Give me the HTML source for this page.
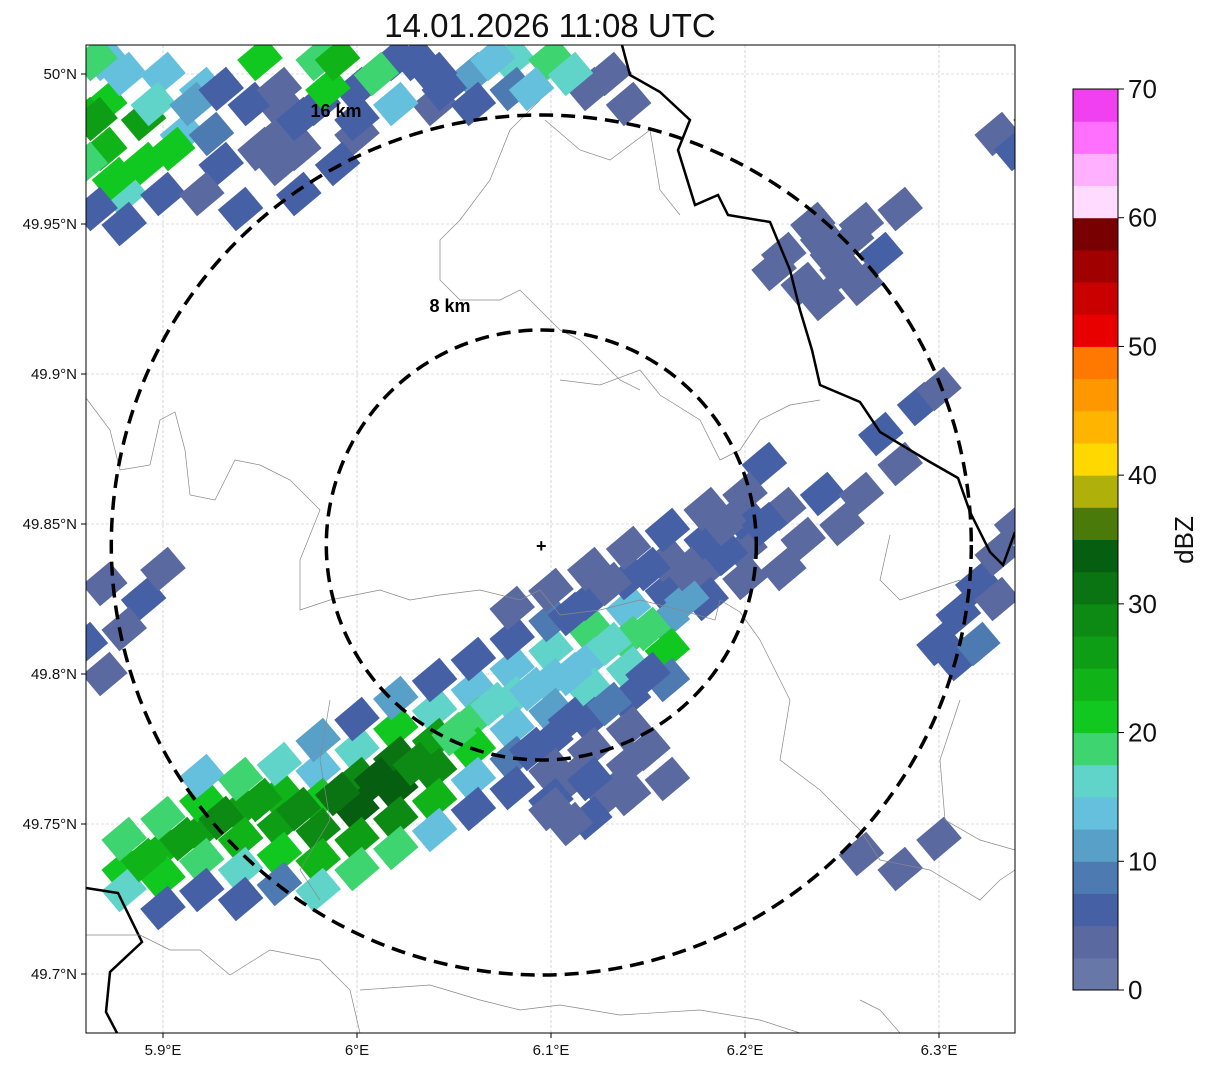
<!DOCTYPE html>
<html><head><meta charset="utf-8"><style>
body{margin:0;background:#fff;font-family:"Liberation Sans",sans-serif;}
svg text{font-family:"Liberation Sans","DejaVu Sans",sans-serif;}
</style></head><body>
<svg id="chart" width="1207" height="1069" viewBox="0 0 1207 1069" xmlns="http://www.w3.org/2000/svg">
<defs><clipPath id="clip"><rect x="86" y="45" width="929" height="988"/></clipPath></defs>
<text x="550" y="37" font-size="33" text-anchor="middle" fill="#111">14.01.2026 11:08 UTC</text>
<g id="grid"></g>
<g id="cells" clip-path="url(#clip)"></g>
<g clip-path="url(#clip)" fill="none">
<polyline stroke="#000" stroke-width="2.5" points="622,45 630,75 660,92 690,120 678,150 695,205 718,195 728,215 770,222 790,270 800,310 812,350 820,385 860,402 880,432 930,462 958,478 970,512 990,552 1003,565 1015,532"/>
<polyline stroke="#000" stroke-width="2.5" points="86,888 118,893 142,942 110,972 106,1012 117,1033"/>
<polyline stroke="#888" stroke-width="0.7" points="86,398 110,430 120,470 150,465 160,420 175,412 185,450 190,495 215,500 235,460 260,465 290,480 320,510 300,560 300,610 330,600 380,590 410,600 440,595 480,590 520,600 540,590 560,615 600,610 640,600 680,610 715,620 720,600 740,612 760,640"/>
<polyline stroke="#888" stroke-width="0.7" points="560,380 600,385 640,370 660,395 700,420 720,460 740,450 760,420 790,405 820,400"/>
<polyline stroke="#888" stroke-width="0.7" points="540,100 510,130 490,180 460,220 440,240 440,280 460,300 500,300 520,290 540,310 560,330 580,340 600,360 620,380 640,390"/>
<polyline stroke="#888" stroke-width="0.7" points="545,120 580,150 610,160 650,130 660,190 680,215"/>
<polyline stroke="#888" stroke-width="0.7" points="86,935 140,935 170,950 200,950 230,975 270,950 320,960 350,990 360,1033"/>
<polyline stroke="#888" stroke-width="0.7" points="360,990 430,985 480,1000 520,1010 560,1005 620,1015 700,1010 760,1020 800,1033"/>
<polyline stroke="#888" stroke-width="0.7" points="760,640 790,700 780,760 820,790 860,830 880,860 930,870 980,900 1000,880 1015,870"/>
<polyline stroke="#888" stroke-width="0.7" points="960,700 940,760 945,820 980,840 1015,850"/>
<polyline stroke="#888" stroke-width="0.7" points="860,1000 880,1010 900,1033"/>
<polyline stroke="#888" stroke-width="0.7" points="890,535 880,580 900,600 960,580"/>
<polyline stroke="#888" stroke-width="0.7" points="330,700 320,760 330,820 300,870 320,900"/>
</g>
<g id="rings" clip-path="url(#clip)"></g>
<rect x="86" y="45" width="929" height="988" fill="none" stroke="#000" stroke-width="1"/>
<g id="axes"></g>
<g id="cbar"></g>
</svg>
<script>
const lonTicks=[5.9,6.0,6.1,6.2,6.3];
const lonLabels=["5.9°E","6°E","6.1°E","6.2°E","6.3°E"];
const latTicks=[50.0,49.95,49.9,49.85,49.8,49.75,49.7];
const latLabels=["50°N","49.95°N","49.9°N","49.85°N","49.8°N","49.75°N","49.7°N"];
const radarLon=6.095, radarLat=49.843;
const ringKm=[8,16];
const ringLabels=["8 km","16 km"];
const cbarLevels=[0,2.5,5,7.5,10,12.5,15,17.5,20,22.5,25,27.5,30,32.5,35,37.5,40,42.5,45,47.5,50,52.5,55,57.5,60,62.5,65,67.5];
const cbarColors=["#6677a8","#5a6aa0","#4660a5","#4e7ab2","#58a0c8","#64c0dc","#60d4c8","#3ed470","#10c820","#10b418","#0e9e16","#0c8a14","#0a7412","#065e10","#4a7a0a","#b0b00a","#ffd800","#ffb400","#ff9800","#ff7800","#e80000","#c80000","#a00000","#780000","#ffdcff","#ffb0ff","#ff70ff","#f040f0"];
const cbarTicks=[0,10,20,30,40,50,60,70];
const cellLon=[5.88,5.88,5.88,5.90,5.90,5.90,5.90,5.92,5.92,5.92,5.92,5.92,5.94,5.94,5.94,5.94,5.94,5.96,5.96,5.96,5.96,5.96,5.98,5.98,5.98,5.98,5.98,5.98,6.00,6.00,6.00,6.00,6.00,6.00,6.02,6.02,6.02,6.02,6.02,6.02,6.04,6.04,6.04,6.04,6.04,6.04,6.06,6.06,6.06,6.06,6.06,6.06,6.08,6.08,6.08,6.08,6.08,6.08,6.08,6.10,6.10,6.10,6.10,6.10,6.10,6.10,6.12,6.12,6.12,6.12,6.12,6.12,6.12,6.14,6.14,6.14,6.14,6.14,6.14,6.14,6.16,6.16,6.16,6.16,6.16,6.16,6.18,6.18,6.18,6.18,6.20,6.20,6.20,6.11,6.13,6.12,6.14,6.10,6.15,
5.87,5.89,5.87,5.89,5.91,5.88,5.90,5.93,5.94,5.92,5.90,5.96,5.98,6.00,5.95,5.98,6.02,6.06,6.08,6.10,6.04,6.12,5.97,5.87,5.86,5.86,6.00,6.04,6.08,6.13,6.14,5.96,5.99,
6.22,6.24,6.26,6.25,6.27,6.23,6.28,6.24,6.33,6.35,6.34,6.27,6.29,6.30,6.28,6.22,6.24,6.25,6.23,6.26,6.22,6.21,6.31,6.32,6.33,6.31,6.32,6.33,6.34,6.30,5.87,5.89,5.88,5.86,5.87,5.90,6.28,6.26,6.30,5.97,
5.865,5.88,5.865,5.875,5.895,5.905,5.915,5.925,5.93,5.945,5.95,5.96,5.97,5.985,5.99,6.01,6.0,6.02,6.03,6.045,6.06,6.07,6.09,6.11,5.88,5.865,5.92,5.96,
5.89,5.91,5.93,5.95,5.97,5.99,6.01,6.03,6.05,6.07,6.09,6.11,6.13,6.15,6.17,6.19,6.09,6.11,6.13,6.15,6.17,6.19,6.15,6.13,6.11,6.20,6.21,6.10,6.12,6.14,6.16,6.11,
6.245,6.255,6.26,6.235,6.215];
const cellLat=[49.735,49.745,49.728,49.742,49.752,49.732,49.722,49.748,49.758,49.738,49.728,49.766,49.755,49.745,49.765,49.735,49.725,49.76,49.75,49.77,49.74,49.73,49.768,49.758,49.748,49.738,49.728,49.778,49.775,49.765,49.755,49.745,49.735,49.785,49.782,49.772,49.762,49.752,49.742,49.792,49.788,49.778,49.768,49.758,49.748,49.798,49.795,49.785,49.775,49.765,49.755,49.805,49.802,49.792,49.782,49.772,49.762,49.812,49.822,49.808,49.798,49.788,49.778,49.768,49.818,49.828,49.815,49.805,49.795,49.785,49.775,49.825,49.835,49.822,49.812,49.802,49.792,49.782,49.832,49.842,49.828,49.818,49.808,49.798,49.838,49.848,49.835,49.825,49.845,49.855,49.842,49.852,49.832,49.765,49.76,49.752,49.77,49.758,49.775,
49.99,49.985,49.975,49.97,49.98,49.96,49.96,49.97,49.955,49.995,50.0,49.99,49.99,49.995,50.005,50.005,50.005,50.0,50.005,50.005,49.99,49.995,49.975,50.005,49.97,49.985,49.98,50.0,49.995,50.0,49.99,49.98,49.97,
49.94,49.945,49.95,49.935,49.94,49.93,49.955,49.925,49.98,49.985,49.975,49.88,49.89,49.895,49.87,49.855,49.86,49.85,49.845,49.86,49.835,49.87,49.82,49.83,49.84,49.805,49.81,49.825,49.85,49.81,49.83,49.825,49.815,49.81,49.80,49.835,49.735,49.74,49.745,49.96,
50.005,50.0,49.985,49.965,49.99,49.975,49.99,49.98,49.995,49.99,49.975,49.995,49.985,49.995,50.005,50.0,49.985,49.99,50.005,49.995,49.99,50.005,49.995,50.0,49.95,49.955,49.96,49.97,
49.738,49.745,49.752,49.758,49.755,49.76,49.765,49.77,49.78,49.79,49.795,49.8,49.81,49.815,49.825,49.84,49.775,49.785,49.79,49.8,49.835,49.85,49.835,49.83,49.82,49.86,49.85,49.755,49.765,49.76,49.765,49.75,
49.94,49.945,49.93,49.95,49.935];
const cellDbz=[20,17.5,15,22.5,17.5,20,5,25,20,17.5,5,12.5,25,22.5,17.5,15,5,22.5,25,15,20,7.5,12.5,20,27.5,22.5,15,10,15,27.5,32.5,25,17.5,5,20,30,32.5,27.5,17.5,10,15,25,27.5,22.5,12.5,5,12.5,17.5,20,12.5,5,5,12.5,15,12.5,7.5,5,5,2.5,15,12.5,10,5,2.5,7.5,2.5,17.5,12.5,15,5,2.5,5,2.5,12.5,17.5,15,5,2.5,5,2.5,5,10,20,7.5,2.5,5,2.5,5,5,2.5,2.5,5,2.5,2.5,2.5,5,2.5,5,2.5,
20,25,22.5,20,12.5,15,5,5,5,12.5,12.5,2.5,5,5,20,17.5,5,10,15,17.5,2.5,2.5,2.5,12.5,17.5,22.5,2.5,5,7.5,2.5,2.5,2.5,5,
2.5,2.5,2.5,2.5,5,2.5,2.5,2.5,2.5,2.5,5,5,5,2.5,2.5,2.5,5,2.5,2.5,2.5,2.5,5,5,5,2.5,5,7.5,2.5,2.5,5,2.5,5,2.5,5,2.5,2.5,2.5,2.5,2.5,5,
17.5,12.5,25,20,15,20,10,7.5,5,5,2.5,2.5,5,20,22.5,17.5,5,12.5,5,5,5,12.5,12.5,15,5,5,2.5,2.5,
22.5,25,27.5,25,27.5,30,32.5,27.5,17.5,15,12.5,12.5,15,17.5,10,5,5,5,7.5,5,2.5,2.5,5,2.5,5,2.5,5,2.5,5,2.5,2.5,2.5,
2.5,2.5,2.5,2.5,2.5];

const X=lon=>163+(lon-5.9)*1940;
const Y=lat=>74+(50-lat)*3000;
const NS="http://www.w3.org/2000/svg";
function mk(tag,attrs,parent){const e=document.createElementNS(NS,tag);for(const k in attrs)e.setAttribute(k,attrs[k]);parent.appendChild(e);return e;}
function colorFor(v){let c=cbarColors[0];for(let i=0;i<cbarLevels.length;i++){if(v>=cbarLevels[i])c=cbarColors[i];}return c;}

const grid=document.getElementById('grid'), axes=document.getElementById('axes');
lonTicks.forEach((t,i)=>{
 const l=mk('line',{x1:X(t),x2:X(t),y1:45,y2:1033,stroke:'#bbb','stroke-width':0.6,'stroke-dasharray':'3,2'},grid);
 
 
 const tk=mk('line',{x1:X(t),x2:X(t),y1:1033,y2:1038,stroke:'#000'},axes);
 
 
 const tx=mk('text',{x:X(t),y:1055,'font-size':15,'text-anchor':'middle',fill:'#111'},axes);
 tx.textContent=lonLabels[i];
 
 
});
latTicks.forEach((t,i)=>{
 const l=mk('line',{x1:86,x2:1015,y1:Y(t),y2:Y(t),stroke:'#bbb','stroke-width':0.6,'stroke-dasharray':'3,2'},grid);
 
 
 const tk=mk('line',{x1:81,x2:86,y1:Y(t),y2:Y(t),stroke:'#000'},axes);
 
 
 const tx=mk('text',{x:77,y:Y(t)+5,'font-size':15,'text-anchor':'end',fill:'#111'},axes);
 tx.textContent=latLabels[i];
 
 
});

const cx=X(radarLon), cy=Y(radarLat);
const cells=document.getElementById('cells');
cellLon.forEach((lon,i)=>{
 const x=X(lon), y=Y(cellLat[i]);
 const r=mk('rect',{x:x-18,y:y-14,width:36,height:28,fill:colorFor(cellDbz[i]),transform:`rotate(-40 ${x.toFixed(1)} ${y.toFixed(1)})`},cells);
 
 
});

const rings=document.getElementById('rings');
const pxPerKm=430/16;
const ringLabelPos=[[450,312],[336,117]];
ringKm.forEach((k,i)=>{
 const c=mk('circle',{cx:cx,cy:cy,r:k*pxPerKm,fill:'none',stroke:'#000','stroke-width':3.5,'stroke-dasharray':'14,8'},rings);
 
 
 const t=mk('text',{x:ringLabelPos[i][0],y:ringLabelPos[i][1],'font-size':18,'font-weight':'bold','text-anchor':'middle',fill:'#000'},rings);
 t.textContent=ringLabels[i];
 
 
});
const m=mk('text',{x:cx,y:cy+7,'font-size':18,'font-weight':'bold','text-anchor':'middle',fill:'#000'},rings);
m.textContent='+';



const cb=document.getElementById('cbar');
const cbTop=89, cbBot=990, cbX=1073, cbW=45;
const CY=v=>cbBot-(v/70)*(cbBot-cbTop);
cbarLevels.forEach((lv,i)=>{
 const r=mk('rect',{x:cbX,y:CY(lv+2.5),width:cbW,height:CY(lv)-CY(lv+2.5)+0.5,fill:cbarColors[i]},cb);
 
 
});
const fr=mk('rect',{x:cbX,y:cbTop,width:cbW,height:cbBot-cbTop,fill:'none',stroke:'#000','stroke-width':1},cb);


cbarTicks.forEach(t=>{
 const tk=mk('line',{x1:cbX+cbW,x2:cbX+cbW+6,y1:CY(t),y2:CY(t),stroke:'#000'},cb);
 
 
 const tx=mk('text',{x:cbX+cbW+10,y:CY(t)+9,'font-size':26,fill:'#111'},cb);
 tx.textContent=t;
 
 
});
const lab=mk('text',{x:1193,y:540,'font-size':26,'text-anchor':'middle',fill:'#111',transform:'rotate(-90 1193 540)'},cb);
lab.textContent='dBZ';


</script>
</body></html>
